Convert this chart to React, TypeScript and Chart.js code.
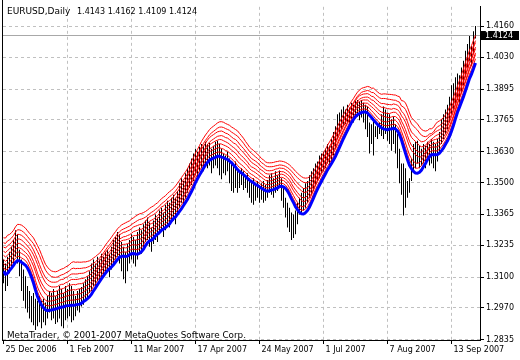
import React, { useEffect, useRef } from "react";
import { Chart, registerables } from "chart.js";
Chart.register(...registerables);

const SYMBOL = "EURUSD,Daily";
const LAST_OHLC = [1.4143, 1.4162, 1.4109, 1.4124];
const COPYRIGHT = "MetaTrader, \u00A9 2001-2007 MetaQuotes Software Corp.";
const X_TICK_INDEX = [0, 32, 64, 96, 128, 160, 192, 224];
const X_TICK_LABELS = ["25 Dec 2006", "1 Feb 2007", "11 Mar 2007", "17 Apr 2007", "24 May 2007", "1 Jul 2007", "7 Aug 2007", "13 Sep 2007"];
const Y_TICKS = [1.2835, 1.297, 1.31, 1.3235, 1.3365, 1.35, 1.363, 1.3765, 1.3895, 1.403, 1.416];

const HIGH = [
  1.3174, 1.3157, 1.3186, 1.3207, 1.3228, 1.3257, 1.3298, 1.3281, 1.3215, 1.3174,
  1.3132, 1.3103, 1.3062, 1.3041, 1.3020, 1.3033, 1.3008, 1.3000, 1.3020, 1.3000,
  1.3008, 1.2992, 1.3020, 1.3041, 1.3033, 1.3049, 1.3020, 1.3041, 1.3062, 1.3049,
  1.3033, 1.3062, 1.3049, 1.3074, 1.3062, 1.3041, 1.3020, 1.3041, 1.3049, 1.3058,
  1.3074, 1.3091, 1.3103, 1.3124, 1.3157, 1.3174, 1.3157, 1.3186, 1.3174, 1.3199,
  1.3186, 1.3207, 1.3215, 1.3199, 1.3228, 1.3257, 1.3269, 1.3290, 1.3281, 1.3248,
  1.3228, 1.3207, 1.3240, 1.3257, 1.3281, 1.3269, 1.3257, 1.3290, 1.3310, 1.3298,
  1.3323, 1.3339, 1.3352, 1.3331, 1.3310, 1.3339, 1.3364, 1.3352, 1.3381, 1.3393,
  1.3373, 1.3406, 1.3423, 1.3414, 1.3435, 1.3448, 1.3435, 1.3464, 1.3497, 1.3518,
  1.3506, 1.3539, 1.3560, 1.3580, 1.3601, 1.3622, 1.3643, 1.3630, 1.3651, 1.3663,
  1.3655, 1.3672, 1.3663, 1.3667, 1.3643, 1.3655, 1.3672, 1.3676, 1.3663, 1.3643,
  1.3622, 1.3614, 1.3630, 1.3601, 1.3580, 1.3572, 1.3589, 1.3560, 1.3547, 1.3560,
  1.3547, 1.3531, 1.3539, 1.3518, 1.3506, 1.3518, 1.3497, 1.3506, 1.3489, 1.3497,
  1.3506, 1.3489, 1.3510, 1.3531, 1.3539, 1.3518, 1.3547, 1.3531, 1.3551, 1.3518,
  1.3477, 1.3435, 1.3414, 1.3393, 1.3373, 1.3364, 1.3381, 1.3414, 1.3435, 1.3456,
  1.3477, 1.3497, 1.3506, 1.3531, 1.3547, 1.3560, 1.3580, 1.3589, 1.3614, 1.3622,
  1.3630, 1.3643, 1.3663, 1.3655, 1.3684, 1.3713, 1.3738, 1.3788, 1.3796, 1.3808,
  1.3821, 1.3808, 1.3829, 1.3817, 1.3837, 1.3829, 1.3845, 1.3849, 1.3841, 1.3849,
  1.3837, 1.3829, 1.3821, 1.3754, 1.3746, 1.3759, 1.3738, 1.3746, 1.3754, 1.3788,
  1.3821, 1.3808, 1.3796, 1.3788, 1.3767, 1.3779, 1.3746, 1.3705, 1.3643, 1.3580,
  1.3580, 1.3560, 1.3506, 1.3518, 1.3601, 1.3663, 1.3672, 1.3676, 1.3655, 1.3643,
  1.3663, 1.3655, 1.3672, 1.3663, 1.3684, 1.3672, 1.3663, 1.3684, 1.3713, 1.3767,
  1.3788, 1.3808, 1.3829, 1.3862, 1.3911, 1.3920, 1.3945, 1.3961, 1.3953, 1.3986,
  1.4015, 1.4057, 1.4086, 1.4119, 1.4077, 1.4139, 1.4162,
];

const LOW = [
  1.3074, 1.3041, 1.3062, 1.3116, 1.3132, 1.3157, 1.3186, 1.3157, 1.3103, 1.3041,
  1.3000, 1.2967, 1.2950, 1.2925, 1.2909, 1.2896, 1.2876, 1.2892, 1.2909, 1.2884,
  1.2909, 1.2896, 1.2925, 1.2950, 1.2917, 1.2925, 1.2901, 1.2909, 1.2925, 1.2892,
  1.2884, 1.2917, 1.2925, 1.2934, 1.2909, 1.2917, 1.2934, 1.2959, 1.2950, 1.2975,
  1.2983, 1.3000, 1.3008, 1.3033, 1.3041, 1.3062, 1.3049, 1.3082, 1.3074, 1.3091,
  1.3103, 1.3116, 1.3124, 1.3099, 1.3132, 1.3157, 1.3174, 1.3186, 1.3157, 1.3124,
  1.3091, 1.3074, 1.3124, 1.3157, 1.3174, 1.3157, 1.3145, 1.3174, 1.3207, 1.3199,
  1.3215, 1.3248, 1.3257, 1.3228, 1.3207, 1.3240, 1.3257, 1.3248, 1.3281, 1.3298,
  1.3269, 1.3298, 1.3323, 1.3310, 1.3339, 1.3339, 1.3323, 1.3364, 1.3393, 1.3414,
  1.3402, 1.3431, 1.3456, 1.3477, 1.3489, 1.3506, 1.3531, 1.3518, 1.3547, 1.3560,
  1.3547, 1.3580, 1.3560, 1.3572, 1.3539, 1.3560, 1.3572, 1.3560, 1.3531, 1.3514,
  1.3539, 1.3531, 1.3547, 1.3497, 1.3464, 1.3456, 1.3477, 1.3456, 1.3477, 1.3489,
  1.3468, 1.3477, 1.3456, 1.3435, 1.3414, 1.3406, 1.3423, 1.3435, 1.3414, 1.3427,
  1.3414, 1.3423, 1.3435, 1.3456, 1.3448, 1.3435, 1.3456, 1.3464, 1.3477, 1.3423,
  1.3393, 1.3352, 1.3310, 1.3290, 1.3257, 1.3265, 1.3281, 1.3323, 1.3364, 1.3373,
  1.3381, 1.3393, 1.3414, 1.3435, 1.3448, 1.3464, 1.3485, 1.3506, 1.3518, 1.3539,
  1.3547, 1.3560, 1.3580, 1.3572, 1.3589, 1.3614, 1.3643, 1.3684, 1.3705, 1.3725,
  1.3738, 1.3746, 1.3754, 1.3746, 1.3767, 1.3754, 1.3771, 1.3779, 1.3763, 1.3775,
  1.3754, 1.3725, 1.3692, 1.3622, 1.3663, 1.3614, 1.3692, 1.3684, 1.3705, 1.3696,
  1.3684, 1.3705, 1.3676, 1.3663, 1.3634, 1.3663, 1.3622, 1.3560, 1.3497, 1.3448,
  1.3360, 1.3393, 1.3435, 1.3456, 1.3506, 1.3547, 1.3560, 1.3580, 1.3560, 1.3572,
  1.3580, 1.3560, 1.3589, 1.3572, 1.3580, 1.3560, 1.3547, 1.3589, 1.3622, 1.3663,
  1.3684, 1.3705, 1.3725, 1.3754, 1.3788, 1.3808, 1.3829, 1.3849, 1.3821, 1.3878,
  1.3911, 1.3945, 1.3986, 1.4015, 1.3994, 1.4044, 1.4109,
];

// Indicator settings: moving averages of the median price, red bands spaced by average bar range
const BLUE_PERIOD = 10;
const RANGE_PERIOD = 14;
const RED_PERIODS = [10, 10, 11, 11, 12, 12, 13, 13];
const RED_MULTIPLIERS = [0.17, 0.34, 0.51, 0.68, 0.85, 1.03, 1.21, 1.42];

function sma(src: number[], period: number): number[] {
  return src.map((_, i) => {
    const start = Math.max(0, i - period + 1);
    let s = 0;
    for (let j = start; j <= i; j++) s += src[j];
    return s / (i - start + 1);
  });
}

const FONT = "DejaVu Sans";

const decor = {
  id: "decor",
  beforeDatasetsDraw(chart: any) {
    const { ctx, chartArea, scales } = chart;
    const y = Math.round(scales.y.getPixelForValue(LAST_OHLC[3])) + 0.5;
    ctx.save();
    ctx.strokeStyle = "#a8a8a8";
    ctx.lineWidth = 1;
    ctx.beginPath();
    ctx.moveTo(chartArea.left, y);
    ctx.lineTo(chartArea.right, y);
    ctx.stroke();
    ctx.restore();
  },
  afterDraw(chart: any) {
    const { ctx, chartArea, scales } = chart;
    ctx.save();
    ctx.fillStyle = "#000";
    ctx.fillRect(chartArea.left - 1, 0, 1, chartArea.bottom + 1);
    ctx.font = `9px "${FONT}"`;
    ctx.textBaseline = "alphabetic";
    ctx.textAlign = "left";
    ctx.fillText(SYMBOL, 7, 14, 64);
    ctx.fillText(LAST_OHLC.map((v) => v.toFixed(4)).join(" "), 77, 14, 120);
    ctx.fillText(COPYRIGHT, 7, 338, 239);
    ctx.font = `8px "${FONT}"`;
    const y = Math.round(scales.y.getPixelForValue(LAST_OHLC[3]));
    ctx.fillRect(chartArea.right + 1, y - 4, 38, 9);
    ctx.fillStyle = "#fff";
    ctx.textBaseline = "middle";
    ctx.fillText(LAST_OHLC[3].toFixed(4), chartArea.right + 5, y + 0.5);
    ctx.restore();
  },
};

export default function App() {
  const ref = useRef<HTMLCanvasElement | null>(null);
  useEffect(() => {
    document.body.style.margin = "0";
    const median = HIGH.map((h, i) => (h + LOW[i]) / 2);
    const range = sma(HIGH.map((h, i) => h - LOW[i]), RANGE_PERIOD);
    const blue = sma(median, BLUE_PERIOD);
    const reds = RED_PERIODS.map((p, k) => sma(median, p).map((v, i) => v + RED_MULTIPLIERS[k] * range[i]));
    const datasets: any[] = [
      {
        type: "line",
        data: blue.map((v, i) => ({ x: i, y: v })),
        borderColor: "#0000ff",
        borderWidth: 3,
        pointRadius: 0,
        tension: 0,
        order: 0,
      },
      ...reds.map((r) => ({
        type: "line",
        data: r.map((v, i) => ({ x: i, y: v })),
        borderColor: "#ff0000",
        borderWidth: 1,
        pointRadius: 0,
        tension: 0,
        order: 1,
      })),
      {
        type: "bar",
        data: HIGH.map((h, i) => ({ x: i, y: [LOW[i], h] })),
        backgroundColor: "#000000",
        borderWidth: 0,
        barThickness: 1,
        inflateAmount: 0,
        grouped: false,
        order: 2,
      },
    ];
    const chart = new Chart(ref.current as HTMLCanvasElement, {
      type: "bar",
      data: { datasets },
      plugins: [decor],
      options: {
        responsive: false,
        animation: false,
        events: [],
        layout: { padding: { left: 3, top: 0, right: 0, bottom: 0 } },
        plugins: { legend: { display: false }, tooltip: { enabled: false }, title: { display: false } },
        scales: {
          x: {
            type: "linear",
            offset: false,
            min: -0.25,
            max: 238.25,
            afterBuildTicks: (s: any) => {
              s.ticks = X_TICK_INDEX.map((v) => ({ value: v }));
            },
            afterFit: (s: any) => {
              s.height = 20;
            },
            grid: {
              offset: false,
              color: (c: any) => (c.index === 0 ? "rgba(0,0,0,0)" : "#c0c0c0"),
              tickColor: "#000",
              tickLength: 4,
              lineWidth: 1,
            },
            border: { display: true, color: "#000", width: 1, dash: [3, 3] },
            ticks: {
              autoSkip: false,
              maxRotation: 0,
              align: "start",
              labelOffset: 2,
              padding: 1,
              color: "#000",
              font: { family: FONT, size: 8 },
              callback: (v: any) => {
                const idx = X_TICK_INDEX.indexOf(Number(v));
                return idx >= 0 ? X_TICK_LABELS[idx] : "";
              },
            },
          },
          y: {
            type: "linear",
            position: "right",
            min: 1.28338,
            max: 1.42428,
            afterBuildTicks: (s: any) => {
              s.ticks = Y_TICKS.map((v) => ({ value: v }));
            },
            afterFit: (s: any) => {
              s.width = 40;
            },
            grid: { color: "#c0c0c0", tickColor: "#000", tickLength: 4, lineWidth: 1 },
            border: { display: true, color: "#000", width: 1, dash: [3, 3] },
            ticks: {
              autoSkip: false,
              crossAlign: "near",
              padding: 2,
              color: "#000",
              font: { family: FONT, size: 8 },
              callback: (v: any) => Number(v).toFixed(4),
            },
          },
        },
      } as any,
    });
    return () => chart.destroy();
  }, []);
  return (
    <div style={{ width: 520, height: 360 }}>
      <canvas ref={ref} width={520} height={360} style={{ display: "block" }} />
    </div>
  );
}
